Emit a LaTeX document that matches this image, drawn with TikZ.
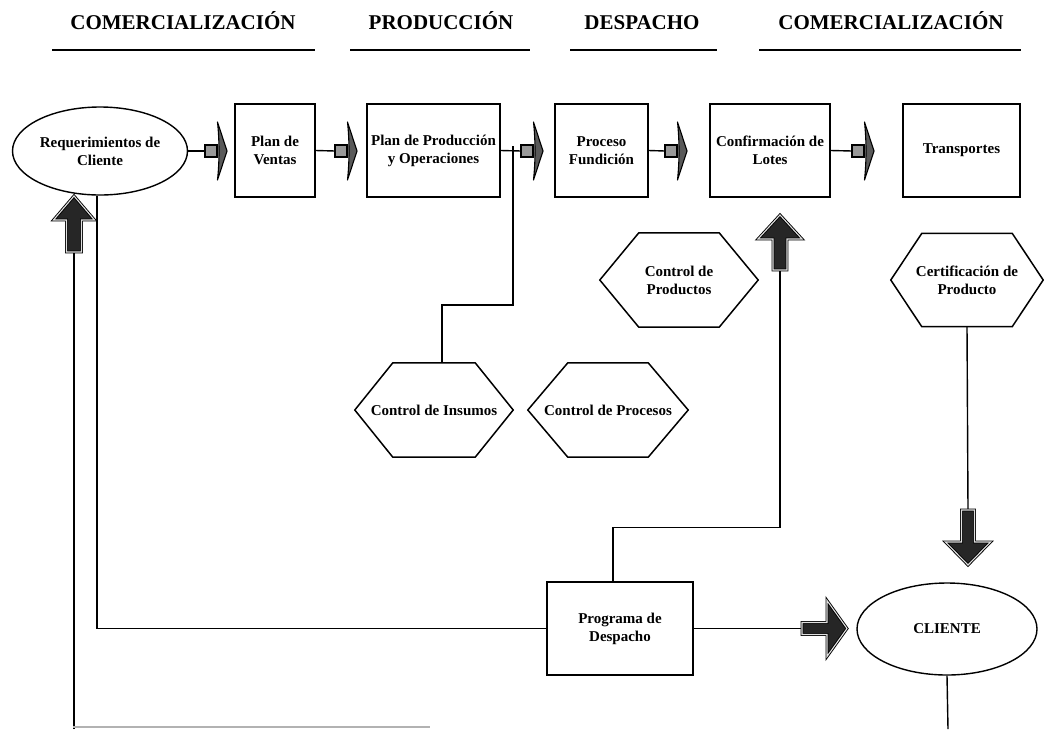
\documentclass[tikz,border=0pt]{standalone}
\usepackage{fontspec}
\setmainfont{Liberation Serif}
\usetikzlibrary{shapes.geometric}
\newcommand\hexdraw[2]{\draw[hexline] (#1.west) -- ([xshift=#2]#1.north west) -- ([xshift=-#2]#1.north east) -- (#1.east) -- ([xshift=-#2]#1.south east) -- ([xshift=#2]#1.south west) -- cycle;}
\newcommand\smallarr[1]{%
  \filldraw[sshaft, shift={(#1)}] (0,-6) rectangle (12,6);
  \filldraw[shead, shift={(#1)}] (12.5,-29) .. controls (14.5,-10) and (14.5,10) .. (12.5,29) -- (22,0) -- cycle;}
\newcommand\blockarr[6]{%
  \filldraw[barr, shift={(#1)}, rotate=#2] (0,-#5) -- ({#3-#4},-#5) -- ({#3-#4},-#6) -- (#3,0) -- ({#3-#4},#6) -- ({#3-#4},#5) -- (0,#5) -- cycle;}
\begin{document}
\begin{tikzpicture}[x=1pt,y=-1pt,
  txt/.style={font=\bfseries\fontsize{15}{18}\selectfont, align=center},
  box/.style={txt, draw, line width=1.6pt, minimum height=93pt, inner sep=2pt},
  ell/.style={txt, draw, ellipse, line width=1.4pt, inner sep=0pt},
  hexn/.style={txt, minimum height=94pt, inner sep=0pt},
  hexline/.style={line width=1.5pt, line join=miter},
  conn/.style={line width=1.4pt},
  hdr/.style={font=\bfseries\fontsize{21}{24}\selectfont, anchor=base},
  hline/.style={line width=2pt},
  sshaft/.style={fill=black!40, draw=black, line width=1.6pt},
  shead/.style={fill=black!65, draw=black, line width=1.1pt, line join=round},
  barr/.style={fill=black!85, draw=black, line width=0.9pt, double=black!12, double distance=1.1pt, line join=miter}]
\useasboundingbox (0,0) rectangle (1044,729);

% headers
\node[hdr] (h1) at (183,29) {COMERCIALIZACIÓN};
\node[hdr] (h2) at (441,29) {PRODUCCIÓN};
\node[hdr] (h3) at (642,29) {DESPACHO};
\node[hdr] (h4) at (891,29) {COMERCIALIZACIÓN};
\draw[hline] (52,49.5) -- (315,49.5);
\draw[hline] (350,49.5) -- (530,49.5);
\draw[hline] (570,49.5) -- (717,49.5);
\draw[hline] (759,49.5) -- (1021,49.5);

% top row
\node[ell, minimum width=175pt, minimum height=88pt] (req) at (100,151) {Requerimientos de\\Cliente};
\node[box, minimum width=80pt] (pv) at (275,150.5) {Plan de\\Ventas};
\node[box, minimum width=133pt] (pp) at (433.5,150.5) {Plan de Producción\\y Operaciones};
\node[box, minimum width=93pt] (pf) at (601.5,150.5) {Proceso\\Fundición};
\node[box, minimum width=120pt] (cl) at (770,150.5) {Confirmación de\\Lotes};
\node[box, minimum width=117pt] (tr) at (961.5,150.5) {Transportes};

% hexagons
\node[hexn, minimum width=158pt] (cprod) at (679,280) {Control de\\Productos};
\node[hexn, minimum width=158pt] (cins) at (434,410) {Control de Insumos};
\node[hexn, minimum width=160pt] (cproc) at (608,410) {Control de Procesos};
\node[hexn, minimum width=152pt, minimum height=93pt] (cert) at (967,280) {Certificación de\\Producto};
\hexdraw{cprod}{39}
\hexdraw{cins}{38}
\hexdraw{cproc}{40}
\hexdraw{cert}{31}

% bottom row
\node[box, minimum width=146pt] (prog) at (620,628.5) {Programa de\\Despacho};
\node[ell, minimum width=180pt, minimum height=92pt] (cli) at (947,629) {CLIENTE};

% arrow tails / free ends
\coordinate (a1) at (205,151);
\coordinate (a2) at (335,151);
\coordinate (a3) at (521,151);
\coordinate (a4) at (665,151);
\coordinate (a5) at (852,151);
\coordinate (j1) at (513,146);
\coordinate (cfa) at (780,270);
\coordinate (dna) at (968,510);
\coordinate (ra) at (802,628.5);
\coordinate (fb) at (74,252);
\coordinate (fbot) at (74,729);
\coordinate (cbot) at (948,729);

% connectors
\draw[conn] (req.east) -- (a1);
\draw[conn] (pv.east) -- (a2);
\draw[conn] (pp.east) -- (a3);
\draw[conn] (pf.east) -- (a4);
\draw[conn] (cl.east) -- (a5);
\draw[conn] (j1) -- ++(0,159) -| ([xshift=8pt]cins.north);
\draw[conn] ([xshift=-7pt]prog.north) -- ++(0,-54) -| (cfa);
\draw[conn] (cert.south) -- (dna);
\draw[conn] (prog.east) -- (ra);
\draw[conn] ([xshift=-3pt]req.south) |- (prog.west);
\draw[conn] (cli.south) -- (cbot);
\draw[conn] (fb) -- (fbot);
\draw[line width=1.5pt, black!30] (73,727) -- (430,727);

% arrows
\smallarr{a1}
\smallarr{a2}
\smallarr{a3}
\smallarr{a4}
\smallarr{a5}
\blockarr{fb}{90}{56}{24}{7.5}{20.5}
\blockarr{cfa}{90}{55}{24}{7}{22}
\blockarr{dna}{-90}{55}{23}{6.5}{22.5}
\blockarr{ra}{0}{45}{20}{6}{28}
\end{tikzpicture}
\end{document}
